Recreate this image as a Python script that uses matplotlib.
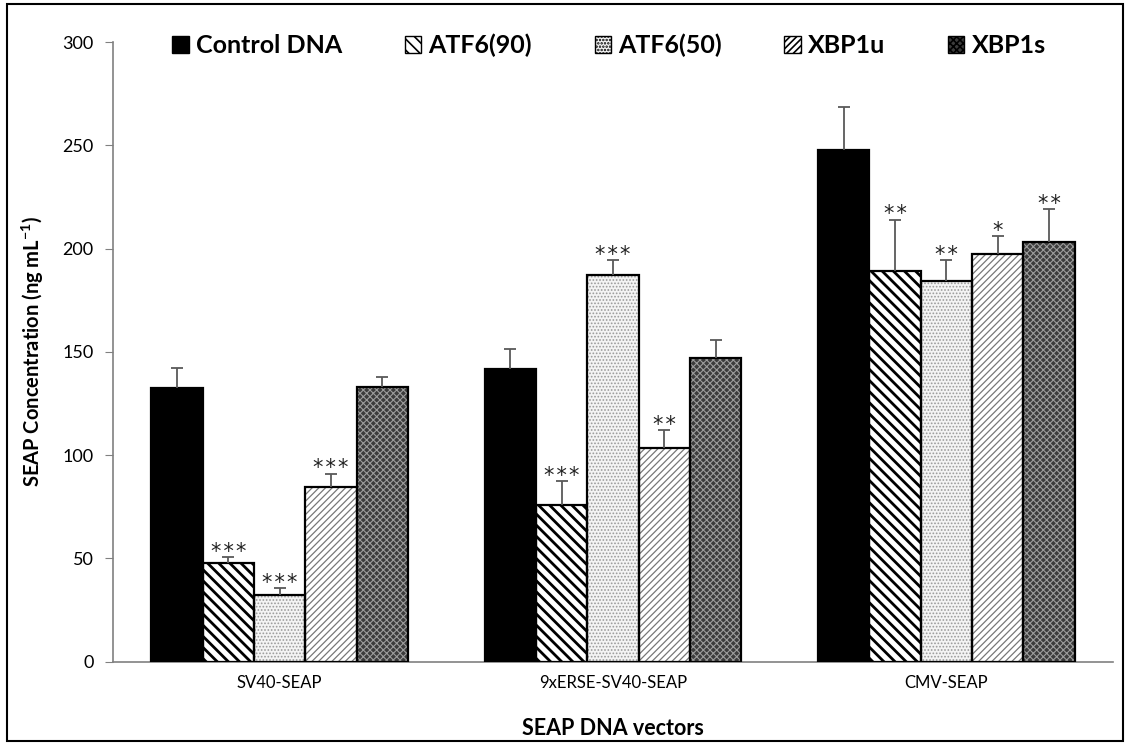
import matplotlib
matplotlib.use("Agg")
import matplotlib.pyplot as plt
import numpy as np
from matplotlib.patches import Rectangle, Patch

plt.rcParams['font.family'] = ['Lato', 'DejaVu Sans']

# 資料
vectors = ['SV40-SEAP', '9xERSE-SV40-SEAP', 'CMV-SEAP']
series = ['Control DNA', 'ATF6(90)', 'ATF6(50)', 'XBP1u', 'XBP1s']
control = [132.5, 141.5, 247.5]
atf6_90 = [47.5, 76.0, 189.0]
atf6_50 = [32.0, 187.0, 184.5]
xbp1u = [84.5, 103.5, 197.5]
xbp1s = [133.0, 147.0, 203.0]
control_err = [9.5, 10.0, 21.0]
atf6_90_err = [3.0, 11.5, 25.0]
atf6_50_err = [3.5, 7.5, 10.0]
xbp1u_err = [6.5, 8.5, 8.5]
xbp1s_err = [5.0, 8.5, 16.0]
stars = [['', '***', '***', '***', ''],
         ['', '***', '***', '**', ''],
         ['', '**', '**', '*', '**']]

values = [control, atf6_90, atf6_50, xbp1u, xbp1s]
errors = [control_err, atf6_90_err, atf6_50_err, xbp1u_err, xbp1s_err]

# 樣式 (底色, 花紋顏色, 花紋, 花紋線寬)
styles = [('black', 'black', None, 1.0),
          ('white', 'black', '\\\\\\', 2.0),
          ('#f4f4f4', '#9a9a9a', '.....', 0.8),
          ('white', '#777777', '/////', 0.9),
          ('#3c3c3c', '#9c9c9c', 'xxxxx', 0.8)]


def set_hatch_lw(patch, lw):
    if hasattr(patch, 'set_hatch_linewidth'):
        patch.set_hatch_linewidth(lw)


fig = plt.figure(figsize=(11.3, 7.45), dpi=100)
ax = fig.add_axes([0.1, 0.112, 0.885, 0.8315])

x = np.arange(len(vectors))
w = 0.154
offsets = (np.arange(5) - 2) * w

for i, (vals, errs) in enumerate(zip(values, errors)):
    face, hcol, hatch, hlw = styles[i]
    pos = x + offsets[i]
    plt.rcParams['hatch.linewidth'] = hlw
    bars = ax.bar(pos, vals, w, color=face, edgecolor=hcol, hatch=hatch, linewidth=0, zorder=2)
    for b in bars:
        set_hatch_lw(b, hlw)
    ax.bar(pos, vals, w, fill=False, edgecolor='black', linewidth=1.6, zorder=3)
    eb = ax.errorbar(pos, vals, yerr=[np.zeros(3), errs], fmt='none', ecolor='#595959',
                     elinewidth=1.3, capsize=4, capthick=1.3, zorder=4)
    # 只保留上方的誤差線帽
    eb[1][0].remove()
    for j in range(3):
        s = stars[j][i]
        if s:
            ax.annotate('\u200a'.join(s), (pos[j], vals[j] + errs[j]), xytext=(0, -0.5),
                        textcoords='offset points', ha='center', va='baseline',
                        fontsize=15, family='DejaVu Sans', color='#222222')

ax.set_xlim(-0.5, 2.5)
ax.set_ylim(0, 300)
ax.set_yticks(range(0, 301, 50))
ax.set_xticks(x)
ax.set_xticklabels(vectors, fontsize=12)
ax.tick_params(axis='x', length=0, pad=10)
ax.tick_params(axis='y', direction='out', length=6, color='#808080', labelsize=13, pad=8)
for side in ['top', 'right']:
    ax.spines[side].set_visible(False)
for side in ['left', 'bottom']:
    ax.spines[side].set_color('#808080')
    ax.spines[side].set_linewidth(1.2)

ax.set_ylabel('SEAP Concentration (ng mL$^{\\mathregular{-1}}$)', fontsize=14.5,
              fontweight='bold', labelpad=12)
ax.set_xlabel('SEAP DNA vectors', fontsize=15.5, fontweight='bold', labelpad=19)

handles = []
for face, hcol, hatch, hlw in styles:
    handles.append(Patch(facecolor=face, edgecolor='black', hatch=hatch, linewidth=1))
plt.rcParams['hatch.linewidth'] = 1.2
leg = ax.legend(handles, series, ncol=5, loc='upper center', bbox_to_anchor=(0.496, 1.05),
                frameon=False, prop={'weight': 'bold', 'size': 18}, handlelength=0.65,
                handleheight=0.65, handletextpad=0.3, columnspacing=2.5)

# 外框
fig.patches.append(Rectangle((0.006, 0.006), 0.988, 0.988, transform=fig.transFigure,
                             fill=False, edgecolor='black', linewidth=1.5))

plt.savefig('out.png', dpi=100)
